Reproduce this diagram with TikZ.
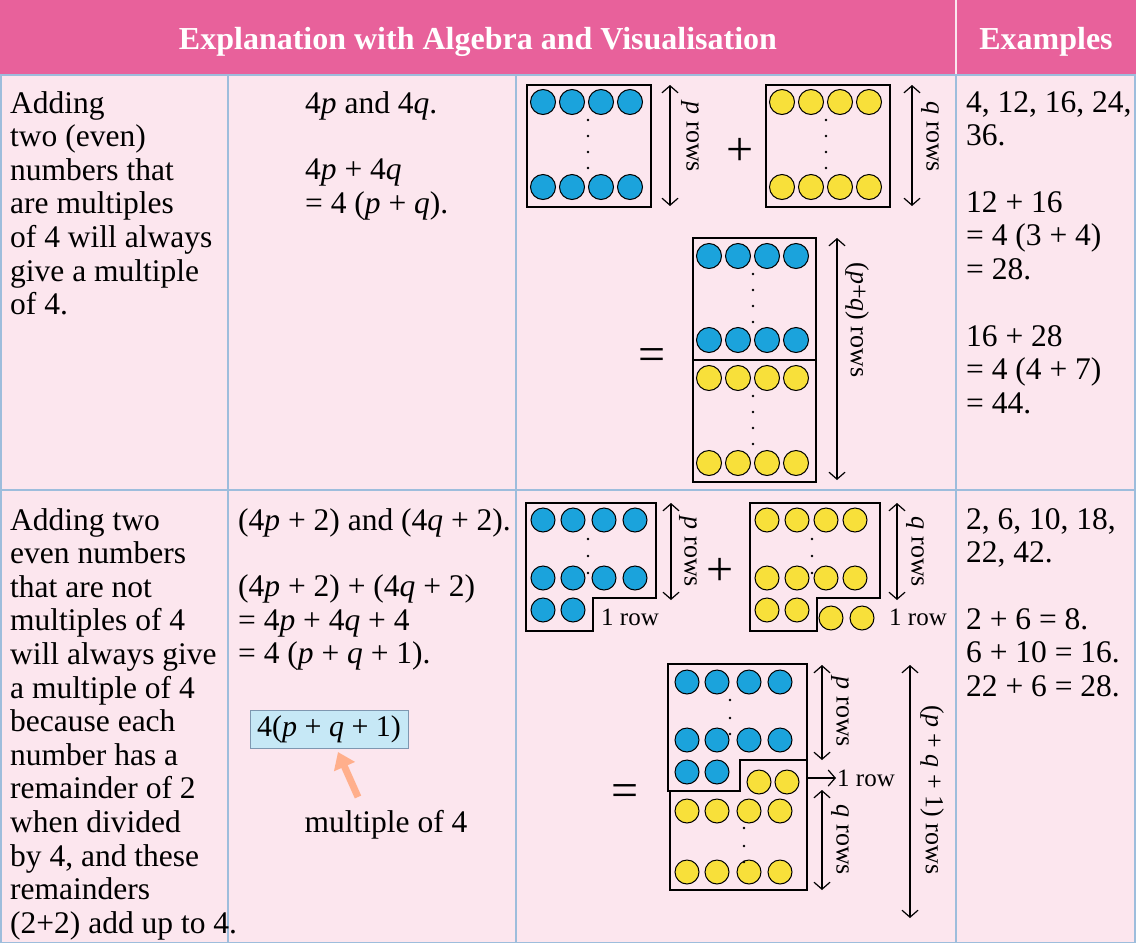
\documentclass[tikz,border=0pt]{standalone}
\usepackage{fontspec}
\setmainfont{Liberation Serif}
\usetikzlibrary{arrows.meta}
\definecolor{bgp}{HTML}{FCE6EE}
\definecolor{hdr}{HTML}{E8619B}
\definecolor{grid}{HTML}{9DBDDC}
\definecolor{bl}{HTML}{1BA3DC}
\definecolor{yl}{HTML}{F8E03A}
\begin{document}
\begin{tikzpicture}[x=1pt,y=-1pt,
  txt/.style={anchor=north west,inner sep=0pt,align=left,font=\fontsize{31.5}{33.6}\selectfont},
  hd/.style={text=white,font=\bfseries\fontsize{32}{34}\selectfont},
  box/.style={draw=black,line width=1.3pt},
  dim/.style={draw=black,line width=1.2pt,{Straight Barb[length=7pt,width=16pt]}-{Straight Barb[length=7pt,width=16pt]}},
  rl/.style={rotate=-90,font=\fontsize{26}{28}\selectfont},
  sm/.style={font=\fontsize{25}{26}\selectfont,inner sep=1pt},
  big/.style={font=\fontsize{48}{48}\selectfont}]
\useasboundingbox (0,0) rectangle (1136,943);
\fill[bgp] (0,0) rectangle (1136,943);
\fill[hdr] (0,0) rectangle (1136,75);
\draw[white!85!hdr,line width=1.5pt] (956,0)--(956,75);
\draw[grid,line width=1.5pt] (0,75)--(1136,75) (0,490)--(1136,490) (0,943)--(1136,943)
  (228,75)--(228,943) (516,75)--(516,943) (956,75)--(956,943) (1,75)--(1,943) (1135,75)--(1135,943);
\node[hd] (h1) at (478,42) {Explanation with Algebra and Visualisation};
\node[hd] (h2) at (1046,42) {Examples};
% row 1 text
\node[txt] (t1) at (10,91) {Adding\\two (even)\\numbers that\\are multiples\\of 4 will always\\give a multiple\\of 4.};
\node[txt] (a1) at (305,91) {4\textit{p} and 4\textit{q}.\\[33pt]4\textit{p} + 4\textit{q}\\= 4 (\textit{p} + \textit{q}).};
\node[txt] (e1) at (966,91) {4, 12, 16, 24,\\36.\\[33pt]12 + 16\\= 4 (3 + 4)\\= 28.\\[33pt]16 + 28\\= 4 (4 + 7)\\= 44.};
% row 2 text
\node[txt] (t2) at (10,508) {Adding two\\even numbers\\that are not\\multiples of 4\\will always give\\a multiple of 4\\because each\\number has a\\remainder of 2\\when divided\\by 4, and these\\remainders\\(2+2) add up to 4.};
\node[txt] (a2) at (238,508) {(4\textit{p} + 2) and (4\textit{q} + 2).\\[33pt](4\textit{p} + 2) + (4\textit{q} + 2)\\= 4\textit{p} + 4\textit{q} + 4\\= 4 (\textit{p} + \textit{q} + 1).};
\node[draw=grid!80!black,fill=bl!25,line width=1pt,minimum width=158pt,minimum height=38pt,inner sep=0pt,font=\fontsize{30}{32}\selectfont] (bx) at (329,729) {4(\textit{p} + \textit{q} + 1)};
\node[font=\fontsize{31.5}{33}\selectfont,inner sep=0pt] (mo) at (386,825) {multiple of 4};
\coordinate (ms) at (358,797);
\coordinate (me) at (338,752);
\draw[-{Triangle[length=16pt,width=22pt]},line width=7pt,orange!60!red!45] (ms) -- (me);
\node[txt] (e2) at (966,508) {2, 6, 10, 18,\\22, 42.\\[33pt]2 + 6 = 8.\\6 + 10 = 16.\\22 + 6 = 28.};
% ---- row 1 visuals
\newcommand\crow[4]{\foreach \xx in {#1} \draw[fill=#4,line width=1pt] (\xx,#2) circle (#3);}
\draw[box] (527,85) rectangle (651,207);
\crow{543,572,601,630}{102}{12.5}{bl}\crow{543,572,601,630}{187}{12.5}{bl}
\foreach \yy in {120,136,152,168} \fill (588,\yy) circle (1.3pt);
\coordinate (pa1) at (670,85); \coordinate (pa2) at (670,206);
\draw[dim] (pa1)--(pa2);
\node[rl] (pl1) at (690,137) {\textit{p} rows};
\node[big] (plus1) at (740,152) {+};
\draw[box] (766,85) rectangle (890,207);
\crow{782,811,840,869}{102}{12.5}{yl}\crow{782,811,840,869}{187}{12.5}{yl}
\foreach \yy in {120,136,152,168} \fill (826,\yy) circle (1.3pt);
\coordinate (qa1) at (912,85); \coordinate (qa2) at (912,206);
\draw[dim] (qa1)--(qa2);
\node[rl] (ql1) at (930,137) {\textit{q} rows};
\node[big] (eq1) at (652,360) {=};
\draw[box] (693,238) rectangle (816,482); \draw[box] (693,360)--(816,360);
\crow{709,738,767,796}{256}{12.5}{bl}\crow{709,738,767,796}{340}{12.5}{bl}
\crow{709,738,767,796}{378}{12.5}{yl}\crow{709,738,767,796}{463}{12.5}{yl}
\foreach \yy in {274,290,306,322} \fill (753,\yy) circle (1.3pt);
\foreach \yy in {396,412,428,444} \fill (753,\yy) circle (1.3pt);
\coordinate (ca1) at (837,238); \coordinate (ca2) at (837,480);
\draw[dim] (ca1)--(ca2);
\node[rl] (cl1) at (857,320) {(\textit{p}+\textit{q}) rows};
% ---- row 2 visuals
\draw[box] (526,503)--(656,503)--(656,598)--(593,598)--(593,631)--(526,631)--cycle;
\crow{543,573,604,635}{520}{12}{bl}\crow{543,573,604,635}{578}{12}{bl}\crow{543,573}{610}{12}{bl}
\foreach \yy in {539,556,573} \fill (588,\yy) circle (1.3pt);
\node[sm,anchor=west] (r1) at (600,617) {1 row};
\draw[dim] (671,503)--(671,600);
\node[rl] (pl2) at (688,552) {\textit{p} rows};
\node[big] (plus2) at (720,572) {+};
\draw[box] (750,503)--(880,503)--(880,598)--(817,598)--(817,631)--(750,631)--cycle;
\crow{767,797,826,855}{520}{12}{yl}\crow{767,797,826,855}{578}{12}{yl}\crow{767,797}{610}{12}{yl}\crow{831,862}{618}{12}{yl}
\foreach \yy in {539,556,573} \fill (812,\yy) circle (1.3pt);
\node[sm,anchor=west] (r2) at (888,617) {1 row};
\draw[dim] (897,503)--(897,600);
\node[rl] (ql2) at (915,552) {\textit{q} rows};
\node[big] (eq2) at (625,796) {=};
\draw[box] (668,664)--(807,664)--(807,760)--(740,760)--(740,791)--(668,791)--cycle;
\draw[box] (740,760)--(807,760)--(807,890)--(670,890)--(670,791)--(740,791);
\crow{687,717,749,780}{682}{12}{bl}\crow{687,717,749,780}{740}{12}{bl}\crow{687,717}{772}{12}{bl}
\crow{759,787}{782}{12}{yl}\crow{687,717,749,780}{811}{12}{yl}\crow{687,717,749,780}{872}{12}{yl}
\foreach \yy in {700,718,734} \fill (730,\yy) circle (1.3pt);
\foreach \yy in {828,846,862} \fill (744,\yy) circle (1.3pt);
\draw[dim] (822,665)--(822,760);
\node[rl] (pl3) at (840,712) {\textit{p} rows};
\coordinate (ro) at (807,778);
\node[sm,anchor=west] (r3) at (836,778) {1 row};
\draw[line width=1.2pt,-{Straight Barb[length=7pt,width=16pt]}] (ro)--(r3.west);
\draw[dim] (822,790)--(822,890);
\node[rl] (ql3) at (840,840) {\textit{q} rows};
\draw[dim] (910,665)--(910,918);
\node[rl] (cl2) at (932,790) {(\textit{p} + \textit{q} + 1) rows};
\end{tikzpicture}
\end{document}
